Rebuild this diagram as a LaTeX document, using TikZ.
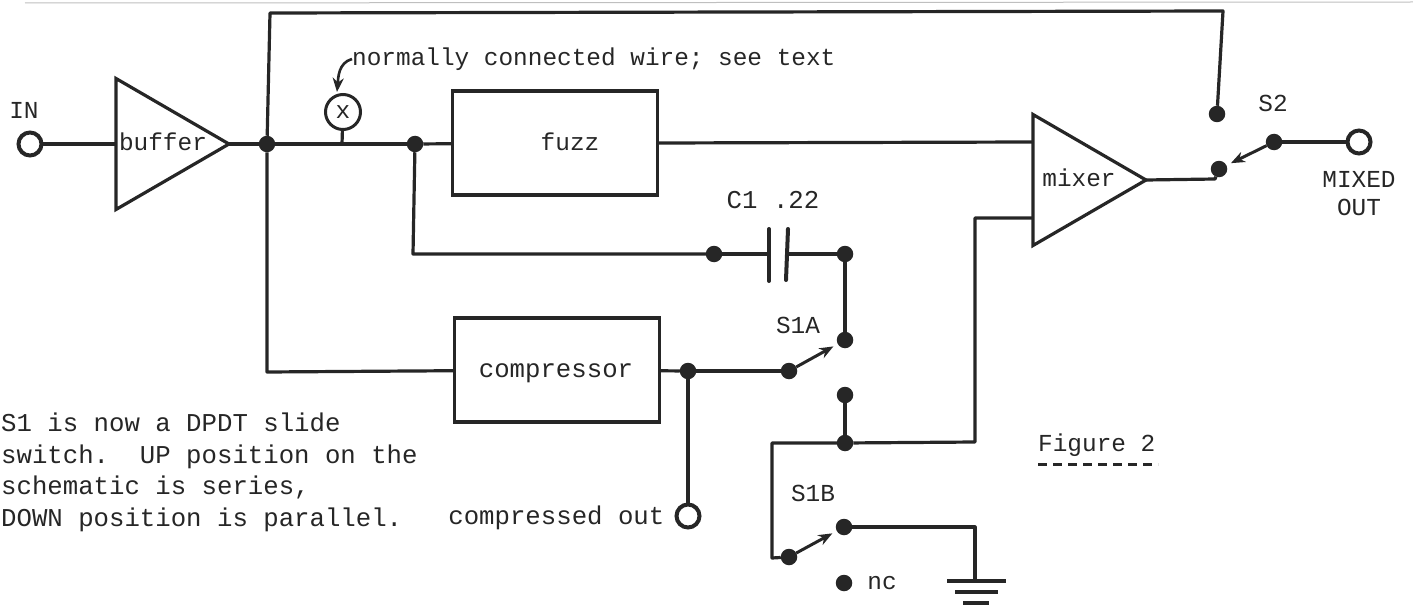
\documentclass[tikz,border=0pt]{standalone}
\usepackage{fontspec}
\setmainfont{Liberation Mono}
\definecolor{ink}{RGB}{38,38,38}
\usetikzlibrary{positioning,shapes.geometric,arrows.meta}

\begin{document}
\begin{tikzpicture}[
  x=1pt, y=-1pt,
  wire/.style={draw=ink, line width=3.2pt, line join=round},
  arr/.style={-{Stealth[length=14pt,width=11pt]}, draw=ink, line width=3pt, shorten >=5pt},
  dot/.style={circle, fill=ink, inner sep=0pt, outer sep=0pt, minimum size=16.5pt},
  jack/.style={circle, draw=ink, line width=4pt, fill=white, inner sep=0pt, outer sep=0pt, minimum size=23pt},
  box/.style={draw=ink, line width=3.2pt, inner sep=0pt, outer sep=0pt, minimum width=205pt, minimum height=104pt},
  amp/.style={isosceles triangle, isosceles triangle stretches, draw=ink, line width=3.2pt, line join=miter, inner sep=0pt, outer sep=0pt, minimum width=131pt, minimum height=113pt, anchor=apex},
  lbl/.style={text=ink, inner sep=0pt, font=\fontsize{24.4}{31.5}\selectfont},
  lblwide/.style={lbl, font=\fontsize{25.7}{31.5}\selectfont},
  plate/.style={draw=ink, line width=4pt, line cap=round},
  node distance=8pt
]
  \useasboundingbox (0,0) rectangle (1413,607);

  % paper edge
  \coordinate (edgea) at (25,3);
  \coordinate (edgeb) at (1413,2);
  \draw[black!25, line width=1pt] (edgea) -- (edgeb);

  % blocks
  \node[amp] (buffer) at (229,144) {};
  \node[lbl] (bufferlbl) at (163,142) {buffer};
  \node[amp] (mixer) at (1146,180) {};
  \node[lbl] (mixerlbl) at (1079,178) {mixer};
  \node[box] (fuzz) at (555,143) {};
  \node[lbl] (fuzzlbl) at (570,142) {fuzz};
  \node[box] (compressor) at (557,370) {};
  \node[lblwide] (compressorlbl) at (556,373) {compressor};

  % terminals
  \node[jack] (in) at (30,144) {};
  \node[lbl, above=14pt of in, xshift=-6pt] (inlbl) {IN};
  \node[jack] (mixedout) at (1359,142) {};
  \node[lbl, font=\fontsize{24.4}{28}\selectfont, align=center, below=18pt of mixedout] (mixedlbl) {MIXED\\OUT};
  \node[jack] (compout) at (688,516) {};
  \node[lblwide, left=12pt of compout, yshift=-2pt] (complbl) {compressed out};

  % junctions and contacts
  \node[dot] (ja) at (267,144) {};
  \node[dot] (jb) at (415,144) {};
  \node[dot] (jc) at (714,254) {};
  \node[dot] (jd) at (845,254) {};
  \node[dot] (je) at (688,371) {};
  \node[dot] (jf) at (845,443) {};
  \node[dot] (s1apole) at (789,371) {};
  \node[dot] (s1aup) at (845,340) {};
  \node[dot] (s1adown) at (845,395) {};
  \node[dot] (s1bpole) at (789,557) {};
  \node[dot] (s1bup) at (844,527) {};
  \node[dot] (s1bdown) at (844,583) {};
  \node[dot] (s2pole) at (1274,142) {};
  \node[dot] (s2up) at (1217,114) {};
  \node[dot] (s2down) at (1219,169) {};

  % wire break
  \node[lbl, circle, draw=ink, line width=3pt, inner sep=0pt, minimum size=35pt] (brk) at (343,112) {x};
  \coordinate (brkfoot) at (342,144);
  \coordinate (brktip) at (337,92);
  \node[lbl, anchor=west] (brklbl) at (352,59) {normally connected wire; see text};

  % capacitor
  \coordinate (capl) at (769,254);
  \coordinate (capr) at (787,254);
  \coordinate (capla) at (769,229);
  \coordinate (caplb) at (769,281);
  \coordinate (capra) at (788,229);
  \coordinate (caprb) at (786,280);
  \node[lblwide] (caplbl) at (773,200) {C1 .22};

  % switch names
  \node[lbl] (s1albl) at (798,325) {S1A};
  \node[lbl] (s1blbl) at (813,493) {S1B};
  \node[lbl] (s2lbl) at (1273,103) {S2};
  \node[lbl, right=15pt of s1bdown] (nclbl) {nc};

  % notes
  \node[lblwide, align=left, anchor=north west] (notelbl) at (1,413) {S1 is now a DPDT slide\\switch.\ \ UP position on the\\schematic is series,\\DOWN position is parallel.};
  \node[lbl, anchor=west] (figlbl) at (1038,445) {Figure 2};
  \coordinate (figa) at (1038,464);
  \coordinate (figb) at (1158,464);
  \draw[draw=ink, line width=3pt, dash pattern=on 9pt off 6pt] (figa) -- (figb);

  % top and input side
  \coordinate (topl) at (270,13);
  \coordinate (topr) at (1223,11);
  \coordinate (botl) at (267,372);
  \draw[wire] (in) -- (buffer.west);
  \draw[wire] (buffer.apex) -- (ja);
  \draw[wire] (ja) -- (jb);
  \draw[wire] (jb) -- (fuzz);
  \draw[wire] (ja) -- (topl) -- (topr) -- (s2up);
  \draw[wire] (ja) -- (botl) -- (compressor);
  \draw[wire] (brk) -- (brkfoot);
  \draw[-{Stealth[length=14pt,width=11pt]}, draw=ink, line width=2.6pt] (brklbl.west) to[out=195, in=85] (brktip);

  % cap branch
  \coordinate (jbfoot) at (413,254);
  \draw[wire] (jb) -- (jbfoot) -- (jc);
  \draw[wire] (jc) -- (capl);
  \draw[wire] (capr) -- (jd);
  \draw[plate] (capla) -- (caplb);
  \draw[plate] (capra) -- (caprb);
  \draw[wire] (jd) -- (s1aup);

  % compressor branch
  \draw[wire] (compressor) -- (je);
  \draw[wire] (je) -- (s1apole);
  \draw[wire] (je) -- (compout);
  \draw[arr] (s1apole) -- (s1aup);

  % S1B and mixer input
  \coordinate (mixa) at (1033,142);
  \coordinate (mixb) at (1033,218);
  \coordinate (mixbc) at (975,218);
  \coordinate (mixbd) at (975,442);
  \coordinate (sbl) at (772,443);
  \coordinate (sbb) at (772,558);
  \coordinate (gndtop) at (975,527);
  \node[inner sep=0pt] (gnd) at (975,581) {};
  \coordinate (gnda) at (947,581);
  \coordinate (gndb) at (1006,581);
  \coordinate (gndc) at (955,592);
  \coordinate (gndd) at (998,592);
  \coordinate (gnde) at (963,603);
  \coordinate (gndf) at (989,603);
  \draw[wire] (fuzz.east) -- (mixa);
  \draw[wire] (mixb) -- (mixbc) -- (mixbd) -- (jf);
  \draw[wire] (s1adown) -- (jf);
  \draw[wire] (jf) -- (sbl) -- (sbb) -- (s1bpole);
  \draw[arr] (s1bpole) -- (s1bup);
  \draw[wire] (s1bup) -- (gndtop) -- (gnd);
  \draw[wire] (gnda) -- (gndb);
  \draw[wire] (gndc) -- (gndd);
  \draw[wire] (gnde) -- (gndf);

  % output
  \coordinate (outc) at (1215,179);
  \draw[wire] (mixer.apex) -- (outc) -- (s2down);
  \draw[arr] (s2pole) -- (s2down);
  \draw[wire] (s2pole) -- (mixedout);
\end{tikzpicture}
\end{document}
